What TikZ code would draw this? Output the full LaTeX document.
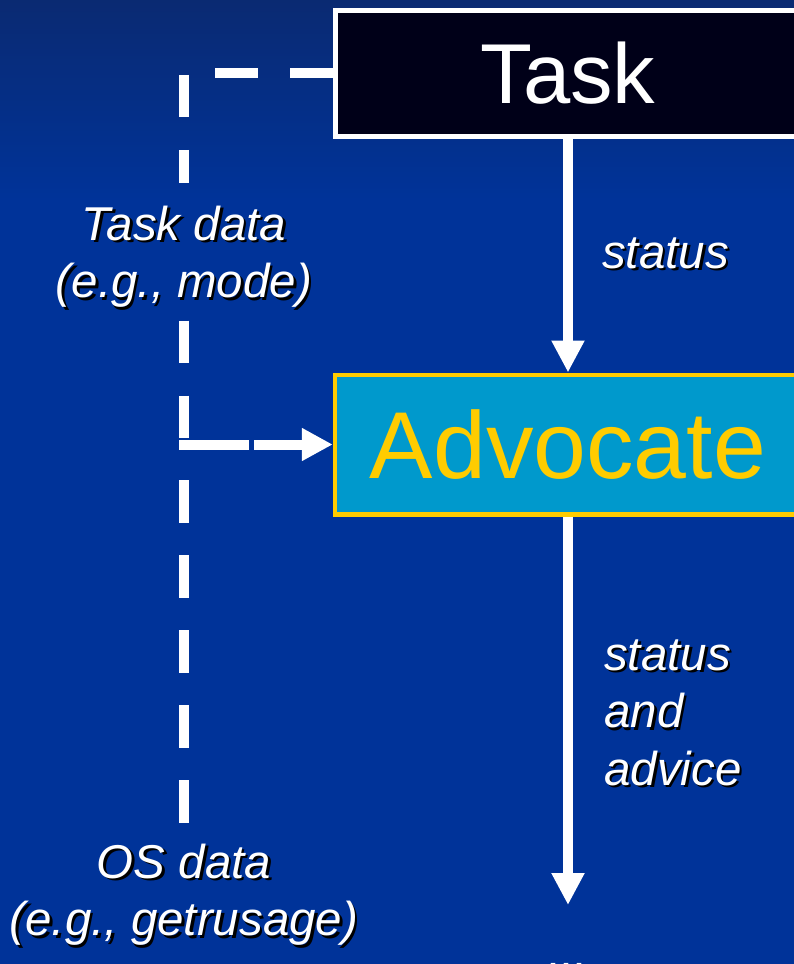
\documentclass[tikz,border=0pt]{standalone}
\usepackage{fontspec}
\setmainfont{Liberation Sans}
\usetikzlibrary{arrows.meta}
\definecolor{bgblue}{HTML}{003399}
\definecolor{bgtop}{HTML}{0A2A72}
\definecolor{taskfill}{HTML}{000018}
\definecolor{advfill}{HTML}{0099CC}
\definecolor{advgold}{HTML}{FFCC00}
\newcommand{\sh}[1]{\makebox[0pt][l]{\hspace*{2.5pt}\raisebox{-2.5pt}{\color{black}#1}}#1}
\begin{document}
\begin{tikzpicture}[x=1pt,y=-1pt,
  taskbox/.style={draw=white,line width=5pt,fill=taskfill,minimum width=466pt,minimum height=126.5pt,inner sep=0pt,text=white,font=\fontsize{85}{85}\selectfont},
  advbox/.style={draw=advgold,line width=4.5pt,fill=advfill,minimum width=466pt,minimum height=139.5pt,inner sep=0pt,text=advgold,font=\fontsize{95}{95}\selectfont},
  lbl/.style={text=white,font=\fontsize{47.5}{57.5}\selectfont\itshape,inner sep=0pt},
  flow/.style={draw=white,line width=10pt,-{Triangle[width=31pt,length=32pt]}},
  dashline/.style={draw=white,line width=10pt,dash pattern=on 42.5pt off 32.5pt},
  branchline/.style={draw=white,line width=10pt,dash pattern=on 70pt off 5pt,-{Triangle[width=31pt,length=31pt]}}]
\useasboundingbox (0,0) rectangle (794,964);
\clip (0,0) rectangle (794,964);
\fill[bgblue] (0,0) rectangle (794,964);
\shade[top color=bgtop,bottom color=bgblue] (0,0) rectangle (794,200);
% boxes
\node[taskbox] (task) at (568,73.25) {Task};
\node[advbox] (adv) at (568,444.5) {Advocate};
% labels (base = baseline of the last line)
\node[lbl,align=center,anchor=base] (tasklbl) at (184,297.5) {\sh{Task data}\\\sh{(e.g., mode)}};
\node[lbl,align=center,anchor=base] (oslbl) at (184,935.5) {\sh{OS data}\\\sh{(e.g., getrusage)}};
\node[lbl,anchor=base west] (st1) at (602,268) {\sh{status}};
\node[lbl,align=left,anchor=base west] (st2) at (604,785) {\sh{status}\\\sh{and}\\\sh{advice}};
\node[lbl,anchor=base] (dots) at (568,968) {\sh{...}};
% coordinates
\coordinate (corner) at (184,73.25);
\coordinate (branch) at (184,444.5);
\coordinate (outend) at (568,905);
% solid arrows
\draw[flow] (task.south) -- (adv.north);
\draw[flow] (adv.south) -- (outend);
% dashed lines
\draw[dashline,shorten >=22.4pt] (task.west) -- (corner) -- (tasklbl.north);
\draw[dashline,shorten <=10.5pt] (tasklbl.south) -- (branch);
\draw[dashline,shorten <=20.4pt] (oslbl.north) -- (branch);
\draw[branchline,shorten <=-5pt] (branch) -- (adv.west);
\end{tikzpicture}
\end{document}
